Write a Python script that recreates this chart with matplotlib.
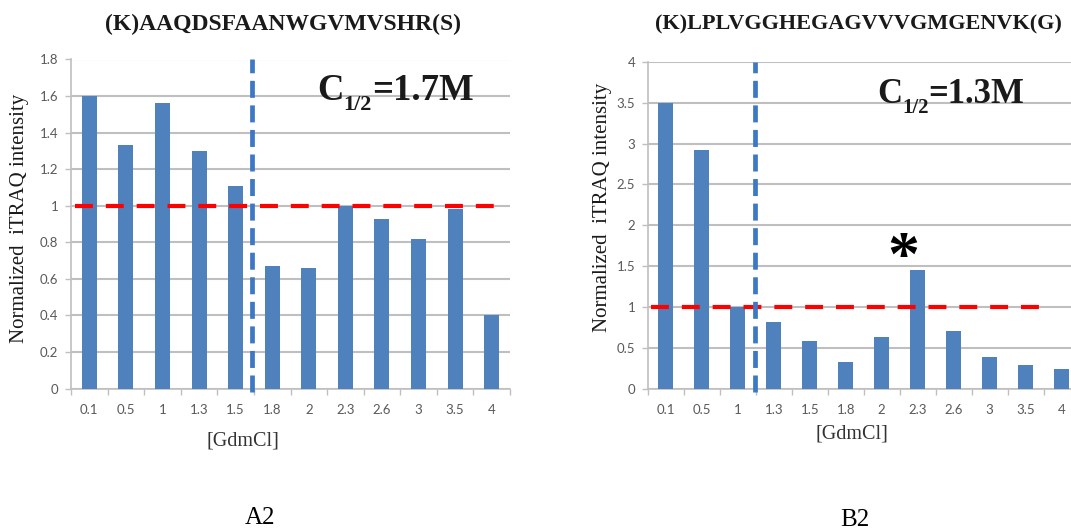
import matplotlib
matplotlib.use("Agg")
import matplotlib.pyplot as plt
from matplotlib.ticker import FixedLocator

categories = ["0.1", "0.5", "1", "1.3", "1.5", "1.8", "2", "2.3", "2.6", "3", "3.5", "4"]
values_a2 = [1.60, 1.33, 1.56, 1.30, 1.11, 0.67, 0.66, 1.00, 0.93, 0.82, 0.98, 0.40]
values_b2 = [3.50, 2.92, 1.00, 0.82, 0.59, 0.33, 0.64, 1.45, 0.71, 0.39, 0.29, 0.25]
yticks_a2 = [0, 0.2, 0.4, 0.6, 0.8, 1.0, 1.2, 1.4, 1.6, 1.8]
yticks_b2 = [0, 0.5, 1.0, 1.5, 2.0, 2.5, 3.0, 3.5, 4.0]
title_a2 = "(K)AAQDSFAANWGVMVSHR(S)"
title_b2 = "(K)LPLVGGHEGAGVVVGMGENVK(G)"
c_half_a2 = "=1.7M"
c_half_b2 = "=1.3M"
panel_a2 = "A2"
panel_b2 = "B2"

BAR = "#4F81BD"
GRID = "#BFBFBF"
TICKC = "#595959"
SERIF = ["Liberation Serif", "DejaVu Serif"]
SANS = ["Lato", "DejaVu Sans"]

W, H = 1071.0, 531.0
fig = plt.figure(figsize=(W / 100, H / 100), dpi=100)
renderer = fig.canvas.get_renderer()


def fmt(v):
    return "%g" % v


def c_half_text(x_left_px, baseline_px, rest, size, subsize, sub_drop_px):
    """Draw C_{1/2}=... as separate text pieces starting at x_left_px (pixels from left)."""
    x = x_left_px
    pieces = [("C", size, 0), ("1/2", subsize, sub_drop_px), (rest, size, 0)]
    for s, fs, drop in pieces:
        t = fig.text(x / W, 1 - (baseline_px + drop) / H, s, fontsize=fs, fontweight="bold",
                     family=SERIF, ha="left", va="baseline", color="#1a1a1a")
        bb = t.get_window_extent(renderer=renderer)
        x += bb.width


def panel(rect, vals, yticks, title, chalf, label, vline_x, red_x, star=None,
          title_xy=None, ylab_xy=None, chalf_pos=None, xlab_xy=None, lab_xy=None):
    ax = fig.add_axes(rect)
    x = list(range(len(categories)))
    ax.bar(x, vals, width=0.41, color=BAR, zorder=3)
    ax.set_xlim(-0.5, len(categories) - 0.5)
    ax.set_ylim(0, yticks[-1])
    ax.set_yticks(yticks)
    ax.set_yticklabels([fmt(v) for v in yticks], fontsize=9.5, color=TICKC, family=SANS)
    ax.set_xticks(x)
    ax.set_xticklabels(categories, fontsize=9.5, color=TICKC, family=SANS)
    ax.xaxis.set_minor_locator(FixedLocator([i - 0.5 for i in range(len(categories) + 1)]))
    ax.tick_params(axis="x", which="major", length=0, pad=11)
    ax.tick_params(axis="x", which="minor", length=4, color=GRID, width=1)
    ax.tick_params(axis="y", length=4, color=GRID, width=1, pad=5)
    ax.grid(axis="y", color=GRID, linewidth=1.5, zorder=0)
    for s in ["top", "right"]:
        ax.spines[s].set_visible(False)
    for s in ["left", "bottom"]:
        ax.spines[s].set_color(GRID)
        ax.spines[s].set_linewidth(1.2)
    ax.set_axisbelow(True)
    # red reference line at 1
    ax.plot(red_x, [1, 1], color="#FF0000", linewidth=3.0, dashes=(4.3, 3.1), zorder=4,
            dash_capstyle="butt")
    # vertical C1/2 line
    ax.plot([vline_x, vline_x], [-0.01 * yticks[-1], yticks[-1]], color="#3C78C3",
            linewidth=3.4, dashes=(3.6, 1.6), zorder=4, clip_on=False, dash_capstyle="butt")
    if star is not None:
        ax.text(star[0], star[1], "*", fontsize=46, fontweight="bold", family=SERIF,
                ha="center", va="center", zorder=5)
    fig.text(title_xy[0] / W, 1 - title_xy[1] / H, title, fontsize=title_xy[2], fontweight="bold",
             family=SERIF, ha="center", va="center", color="#1a1a1a")
    fig.text(ylab_xy[0] / W, 1 - ylab_xy[1] / H, "Normalized  iTRAQ intensity", fontsize=15,
             family=SERIF, rotation=90, ha="center", va="center", color="#1a1a1a")
    c_half_text(chalf_pos[0], chalf_pos[1], chalf, chalf_pos[2], chalf_pos[3], chalf_pos[4])
    fig.text(xlab_xy[0] / W, 1 - xlab_xy[1] / H, "[GdmCl]", fontsize=14.5, family=SERIF,
             ha="center", va="center", color="#333333")
    fig.text(lab_xy[0] / W, 1 - lab_xy[1] / H, label, fontsize=18, family=SERIF,
             ha="center", va="center", color="black")
    return ax


panel([71 / W, 1 - 388.5 / H, 439 / W, 329 / H], values_a2, yticks_a2, title_a2, c_half_a2,
      panel_a2, 4.45, [-0.4, 11.4],
      title_xy=(283, 24, 17), ylab_xy=(20, 218),
      chalf_pos=(317, 100, 26.5, 16, 10), xlab_xy=(243, 441),
      lab_xy=(260, 518))

panel([647.7 / W, 1 - 389 / H, 432 / W, 327.3 / H], values_b2, yticks_b2, title_b2, c_half_b2,
      panel_b2, 2.48, [-0.4, 10.68], star=(6.6, 1.58),
      title_xy=(858, 24, 16), ylab_xy=(603, 207),
      chalf_pos=(877, 103, 25, 15, 10), xlab_xy=(852, 434),
      lab_xy=(855, 520))

fig.savefig("out.png", dpi=100, facecolor="white")
